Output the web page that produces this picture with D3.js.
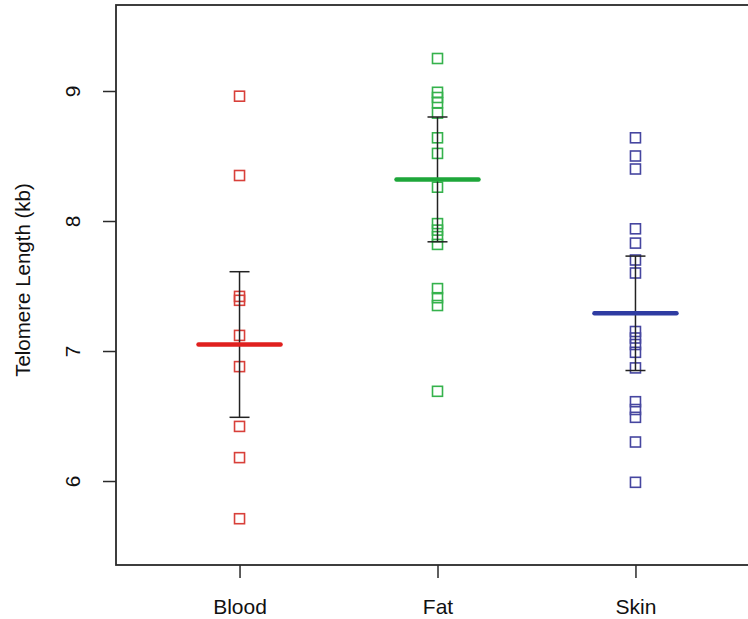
<!DOCTYPE html>
<html lang='en'>
<head>
  <meta charset='utf-8'>
  <script src="https://d3js.org/d3.v7.min.js"></script>
  <title>Telomere length by tissue</title>
  <style>
    body { margin: 0; background: #fff; }
    text { font-family: "Liberation Sans", Arial, sans-serif; fill: #111; }
  </style>
</head>
<body>
  <div id="my_dataviz"></div>
  <script>
    // values
    const groups = ["Blood", "Fat", "Skin"];
    const bloodValues = [8.96, 8.35, 7.42, 7.39, 7.12, 6.88, 6.42, 6.18, 5.71];
    const fatValues = [9.25, 8.99, 8.95, 8.91, 8.83, 8.64, 8.52, 8.26, 7.98, 7.93, 7.88, 7.82, 7.48, 7.41, 7.35, 6.69];
    const skinValues = [8.64, 8.50, 8.40, 7.94, 7.83, 7.70, 7.60, 7.15, 7.10, 7.05, 6.99, 6.87, 6.61, 6.55, 6.49, 6.30, 5.99];
    const means = [7.05, 8.32, 7.29];
    const errLow = [6.49, 7.84, 6.85];
    const errHigh = [7.61, 8.80, 7.73];
    const yTicks = [6, 7, 8, 9];
    const pointColors = ["#d8403a", "#35b24c", "#4646a0"];
    const meanColors = ["#e0201e", "#1ea63a", "#2f3ca2"];

    const allValues = [bloodValues, fatValues, skinValues];

    const W = 748, H = 619;
    const plot = {left: 116, top: 5, right: 759, bottom: 565};

    const svg = d3.select("#my_dataviz")
      .append("svg")
      .attr("width", W)
      .attr("height", H);

    const x = d3.scaleLinear()
      .domain([0.376, 3.624])
      .range([plot.left, plot.right]);

    const y = d3.scaleLinear()
      .domain([5.354, 9.6615])
      .range([plot.bottom, plot.top]);

    // frame
    svg.append("rect")
      .attr("x", plot.left)
      .attr("y", plot.top)
      .attr("width", plot.right - plot.left)
      .attr("height", plot.bottom - plot.top)
      .attr("fill", "none")
      .attr("stroke", "#2a2a2a")
      .attr("stroke-width", 1.8);

    // y axis
    const yAxis = svg.append("g")
      .attr("transform", `translate(${plot.left},0)`)
      .call(d3.axisLeft(y).tickValues(yTicks).tickSize(13).tickFormat(d3.format("d")));
    yAxis.select(".domain").remove();
    yAxis.selectAll(".tick line").attr("stroke", "#2a2a2a").attr("stroke-width", 1.5);
    yAxis.selectAll(".tick text")
      .attr("x", null).attr("dy", null)
      .attr("text-anchor", "middle")
      .attr("transform", "translate(-36,0) rotate(-90)")
      .style("font-size", "21px");

    // x axis
    const xAxis = svg.append("g")
      .attr("transform", `translate(0,${plot.bottom})`)
      .call(d3.axisBottom(x).tickValues([1, 2, 3]).tickSize(13).tickFormat(d => groups[d - 1]));
    xAxis.select(".domain").remove();
    xAxis.selectAll(".tick line").attr("stroke", "#2a2a2a").attr("stroke-width", 1.5);
    xAxis.selectAll(".tick text")
      .attr("y", 49).attr("dy", null)
      .style("font-size", "21px");

    svg.append("text")
      .attr("transform", `translate(30,${(plot.top + plot.bottom) / 2 - 5}) rotate(-90)`)
      .attr("text-anchor", "middle")
      .style("font-size", "20.5px")
      .text("Telomere Length (kb)");

    // points
    allValues.forEach(function (vals, i) {
      svg.append("g")
        .selectAll("rect")
        .data(vals)
        .join("rect")
          .attr("x", x(i + 1) - 5)
          .attr("y", d => y(d) - 5)
          .attr("width", 10)
          .attr("height", 10)
          .attr("fill", "none")
          .attr("stroke", pointColors[i])
          .attr("stroke-width", 1.6);
    });

    // error bars
    const eb = svg.append("g").attr("stroke", "#222").attr("stroke-width", 1.5);
    groups.forEach(function (g, i) {
      const cx = x(i + 1);
      eb.append("line").attr("x1", cx).attr("x2", cx).attr("y1", y(errLow[i])).attr("y2", y(errHigh[i]));
      eb.append("line").attr("x1", cx - 10).attr("x2", cx + 10).attr("y1", y(errLow[i])).attr("y2", y(errLow[i]));
      eb.append("line").attr("x1", cx - 10).attr("x2", cx + 10).attr("y1", y(errHigh[i])).attr("y2", y(errHigh[i]));
    });

    // mean lines
    svg.append("g")
      .selectAll("line")
      .data(means)
      .join("line")
        .attr("x1", (d, i) => x(i + 1) - 41)
        .attr("x2", (d, i) => x(i + 1) + 41)
        .attr("y1", d => y(d))
        .attr("y2", d => y(d))
        .attr("stroke", (d, i) => meanColors[i])
        .attr("stroke-width", 4.5)
        .attr("stroke-linecap", "round");
  </script>
</body>
</html>
